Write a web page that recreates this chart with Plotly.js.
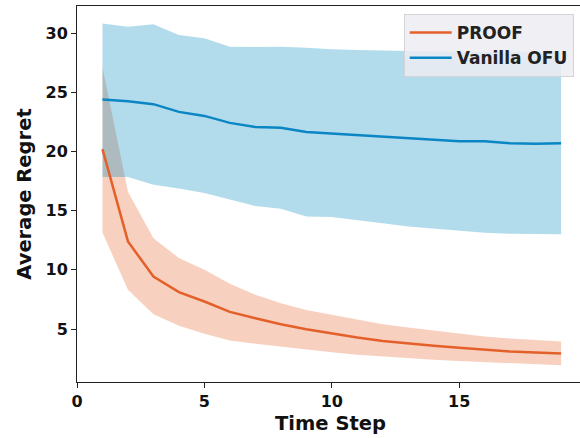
<!DOCTYPE html>
<html>
<head>
<meta charset="utf-8">
<script src="https://cdn.plot.ly/plotly-3.0.1.min.js"></script>
<style>
html,body{margin:0;padding:0;overflow:hidden;background:#fff;}
#chart{width:590px;height:438px;}
</style>
</head>
<body>
<div id="chart"></div>
<script>
const steps = [1,2,3,4,5,6,7,8,9,10,11,12,13,14,15,16,17,18,19];

const proofMean  = [20.2,12.4,9.43,8.12,7.33,6.45,5.92,5.41,4.99,4.63,4.29,4.0,3.78,3.59,3.42,3.25,3.1,3.02,2.94];
const proofUpper = [27.1,16.6,12.67,11.0,10.0,8.82,7.9,7.19,6.62,6.2,5.78,5.41,5.13,4.88,4.6,4.37,4.2,4.09,3.95];
const proofLower = [13.15,8.31,6.26,5.27,4.6,4.03,3.76,3.53,3.27,3.05,2.83,2.68,2.55,2.41,2.3,2.19,2.1,2.02,1.94];

const ofuMean  = [24.38,24.24,23.99,23.34,23.0,22.41,22.07,21.99,21.65,21.51,21.37,21.24,21.1,20.96,20.85,20.85,20.68,20.65,20.68];
const ofuUpper = [30.81,30.53,30.73,29.83,29.55,28.84,28.82,28.84,28.76,28.62,28.56,28.5,28.46,28.44,28.42,28.4,28.4,28.38,28.36];
const ofuLower = [17.83,17.83,17.19,16.86,16.49,15.92,15.4,15.15,14.5,14.46,14.2,13.94,13.66,13.5,13.3,13.13,13.05,13.0,13.0];

const seriesNames = ["PROOF","Vanilla OFU"];
const xTicks = [0,5,10,15];
const yTicks = [5,10,15,20,25,30];

const orange = "#e4602a";
const blue = "#0a86c4";

function band(upper, lower, color){
  return {
    x: steps.concat(steps.slice().reverse()),
    y: upper.concat(lower.slice().reverse()),
    type: "scatter", mode: "lines", fill: "toself",
    fillcolor: color, line: {width: 0, color: "rgba(0,0,0,0)"},
    showlegend: false, hoverinfo: "skip"
  };
}

const traces = [
  band(proofUpper, proofLower, "rgba(232,100,44,0.3)"),
  band(ofuUpper, ofuLower, "rgba(0,138,190,0.3)"),
  {x: steps, y: proofMean, type: "scatter", mode: "lines", name: seriesNames[0], line: {color: orange, width: 2.5}},
  {x: steps, y: ofuMean, type: "scatter", mode: "lines", name: seriesNames[1], line: {color: blue, width: 2.5}}
];

const boldFont = "DejaVu Sans Bold, DejaVu Sans, sans-serif";

const layout = {
  width: 590, height: 438,
  margin: {l: 77, r: 5.5, t: 6, b: 56, pad: 0},
  paper_bgcolor: "#fff", plot_bgcolor: "#fff",
  font: {family: boldFont, color: "#111", size: 16},
  xaxis: {
    range: [0, 19.9], tickvals: xTicks, ticktext: xTicks.map(String),
    ticks: "outside", ticklen: 5, tickwidth: 1, tickcolor: "#222",
    showline: true, linecolor: "#222", linewidth: 1, mirror: true,
    showgrid: false, zeroline: false,
    tickfont: {family: boldFont, size: 16, color: "#111", weight: "bold"},
    title: {text: "Time Step", font: {family: boldFont, size: 19.5, color: "#111", weight: "bold"}, standoff: 6}
  },
  yaxis: {
    range: [0.53, 32.28], tickvals: yTicks, ticktext: yTicks.map(String),
    ticks: "outside", ticklen: 5, tickwidth: 1, tickcolor: "#222",
    showline: true, linecolor: "#222", linewidth: 1, mirror: true,
    showgrid: false, zeroline: false,
    tickfont: {family: boldFont, size: 16, color: "#111", weight: "bold"},
    title: {text: "Average Regret", font: {family: boldFont, size: 19.5, color: "#111", weight: "bold"}, standoff: 8}
  },
  legend: {
    xref: "paper",
    bgcolor: "rgba(236,236,242,0.85)", bordercolor: "#d4d4d8", borderwidth: 1,
    font: {family: boldFont, size: 17, color: "#222", weight: "bold"},
    itemwidth: 42,
    tracegroupgap: 0
  },
  showlegend: true
};
layout.legend.x = (404 - 77) / 507.5;
layout.legend.y = (382 - 14) / 376;
layout.legend.xanchor = "left";
layout.legend.yanchor = "top";

Plotly.newPlot("chart", traces, layout, {displayModeBar: false, staticPlot: true});
</script>
</body>
</html>
